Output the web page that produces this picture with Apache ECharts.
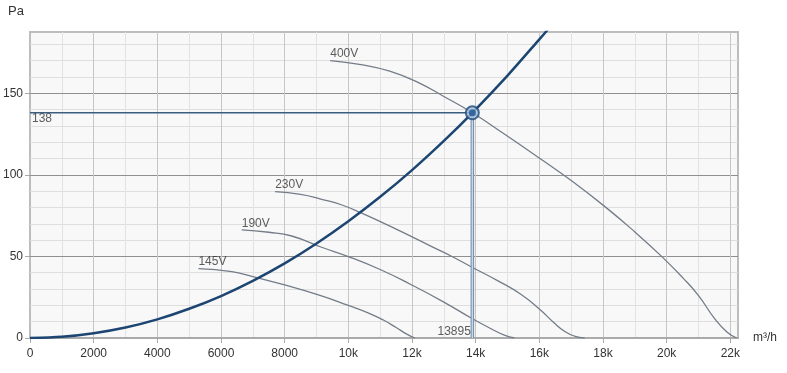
<!DOCTYPE html>
<html>
<head>
<meta charset="utf-8">
<script src="https://cdn.jsdelivr.net/npm/echarts@6/dist/echarts.min.js"></script>
<style>
html,body{margin:0;padding:0;background:#fff;}
#chart{width:787px;height:373px;}
</style>
</head>
<body>
<div id="chart"></div>
<script>
// ---- data ----
const xTickInterval = 2000;
const xMinorInterval = 1000;
const yTickInterval = 50;
const yMinorInterval = 10;
const xMax = 22240;
const yMax = 187.5;
const xAxisName = 'm³/h';
const yAxisName = 'Pa';

const fanNames = ['400V', '230V', '190V', '145V'];
const curve400V = [[9430,170],[10400,167.5],[11300,163.5],[12200,156.5],[13000,148],[13895,138],[14900,125],[16020,110],[17000,96.5],[18060,80.5],[19000,65],[19840,50],[20500,37],[21000,26],[21500,12],[21900,3.5],[22200,0]];
const curve230V = [[7700,89.7],[8500,88],[9160,85],[9800,81.5],[10420,76.5],[11470,67],[12620,56],[13300,49.5],[13870,43.5],[14700,35],[15440,26.5],[16070,16.5],[16450,9.5],[16800,4],[17100,1.2],[17420,0]];
const curve190V = [[6650,66.2],[7500,64.8],[8220,62.5],[9160,55.6],[10000,49.9],[11050,41.5],[11990,32.5],[13000,22],[13870,12.1],[14500,5.5],[14900,1.8],[15220,0]];
const curve145V = [[5290,42.5],[6340,40.7],[6970,37.8],[8000,32.5],[9060,26.4],[10000,20],[10600,15.6],[11100,11],[11500,6.4],[11850,2.2],[12090,0]];
const fanCurves = [curve400V, curve230V, curve190V, curve145V];

const systemCurve = [[0,0],[1000,0.7],[2000,2.9],[3000,6.4],[4000,11.4],[5000,17.9],[6000,25.7],[7000,35],[8000,45.7],[9000,57.9],[10000,71.5],[11000,86.5],[12000,102.9],[13000,120.8],[13895,138],[15000,160.8],[16000,183],[16400,192]];

const opFlow = 13895;
const opPressure = 138;

// ---- chart ----
const FONT = '"Liberation Sans", Arial, sans-serif';
const fanColor = '#737c87';

function fmtX(v){ return v >= 10000 ? (v/1000) + 'k' : String(v); }

const series = [];
fanCurves.forEach(function(c, i){
  series.push({
    type:'line', name: fanNames[i], data: c, smooth: 0.5,
    showSymbol:false, symbol:'none', z:10,
    lineStyle:{color: fanColor, width:1.3}
  });
});
// operating point guide lines
series.push({
  type:'line', data:[[0,opPressure],[opFlow,opPressure]], showSymbol:false, symbol:'none', z:11,
  lineStyle:{color:'#3b5d80', width:1.5}
});
series.push({
  type:'line', data:[[opFlow,opPressure],[opFlow,0]], showSymbol:false, symbol:'none', z:11,
  lineStyle:{color:'#6f8cab', width:3.5}
});
series.push({
  type:'line', data:[[opFlow,opPressure],[opFlow,0]], showSymbol:false, symbol:'none', z:12,
  lineStyle:{color:'#c9d6e3', width:1.5}
});
// system curve
series.push({
  type:'line', data: systemCurve, smooth: 0.3, showSymbol:false, symbol:'none', z:13,
  lineStyle:{color:'#1d4572', width:2.5}
});
// operating point marker
series.push({
  type:'scatter', data:[[opFlow,opPressure]], symbol:'circle', symbolSize:13, z:14,
  itemStyle:{color:'#a9c0d9', borderColor:'#1d4a7c', borderWidth:2}
});
series.push({
  type:'scatter', data:[[opFlow,opPressure]], symbol:'circle', symbolSize:7, z:15,
  itemStyle:{color:'#1d5496'}
});
// fan curve labels at curve starts
series.push({
  type:'scatter', symbol:'circle', symbolSize:1, z:16, silent:true,
  itemStyle:{color:'rgba(0,0,0,0)'},
  data: fanCurves.map(function(c, i){
    return {value: c[0], name: fanNames[i]};
  }),
  label:{show:true, formatter:'{b}', position:'top', align:'left', distance:0,
         fontSize:12, color:'#333', fontFamily:FONT}
});
// operating point value labels
series.push({
  type:'scatter', symbol:'circle', symbolSize:1, z:16, silent:true,
  itemStyle:{color:'rgba(0,0,0,0)'},
  data:[
    {value:[0,opPressure], label:{show:true, formatter:String(opPressure), position:'bottom', align:'left', distance:0, offset:[2,-1], fontSize:12, color:'#333', fontFamily:FONT}},
    {value:[opFlow,0], label:{show:true, formatter:String(opFlow), position:'left', distance:1, offset:[0,-6], fontSize:12, color:'#333', fontFamily:FONT}}
  ]
});

const option = {
  animation:false,
  textStyle:{fontFamily:FONT},
  grid:{left:28, right:49, top:32, bottom:35, show:true, backgroundColor:'#f8f8f8', borderColor:'#bdbdbd', borderWidth:2},
  xAxis:[
    {type:'value', min:0, max:xMax, interval:xTickInterval, z:3,
     name:xAxisName, nameLocation:'end', nameGap:15,
     nameTextStyle:{fontSize:12, color:'#333', padding:[36,0,0,0], fontFamily:FONT},
     axisLine:{show:true, onZero:false, lineStyle:{color:'#aaaaaa', width:2}},
     axisTick:{show:true, length:5, lineStyle:{color:'#aaaaaa'}},
     axisLabel:{margin:10, fontSize:12, color:'#333', showMaxLabel:false, formatter:fmtX, fontFamily:FONT},
     splitLine:{show:true, showMinLine:false, showMaxLine:false, lineStyle:{color:'#c6c6c6', width:1}}
    },
    {type:'value', min:0, max:xMax, interval:xMinorInterval, z:2, position:'top',
     axisLine:{show:false}, axisTick:{show:false}, axisLabel:{show:false},
     splitLine:{show:true, showMinLine:false, showMaxLine:false, lineStyle:{color:'#e2e2e2', width:1}}
    }
  ],
  yAxis:[
    {type:'value', min:0, max:yMax, interval:yTickInterval, z:3,
     name:yAxisName, nameLocation:'end', nameGap:14,
     nameTextStyle:{fontSize:13, color:'#333', padding:[0,28,0,0], fontFamily:FONT},
     axisLine:{show:false},
     axisTick:{show:true, length:5, lineStyle:{color:'#aaaaaa'}},
     axisLabel:{margin:7, fontSize:12, color:'#333', showMaxLabel:false, fontFamily:FONT},
     splitLine:{show:true, showMinLine:false, showMaxLine:false, lineStyle:{color:'#8f8f8f', width:1}}
    },
    {type:'value', min:0, max:yMax, interval:yMinorInterval, z:2, position:'right',
     axisLine:{show:false}, axisTick:{show:false}, axisLabel:{show:false},
     splitLine:{show:true, showMinLine:false, showMaxLine:false, lineStyle:{color:'#dedede', width:1}}
    }
  ],
  series: series
};

const chart = echarts.init(document.getElementById('chart'), null, {renderer:'canvas'});
chart.setOption(option);
</script>
</body>
</html>
